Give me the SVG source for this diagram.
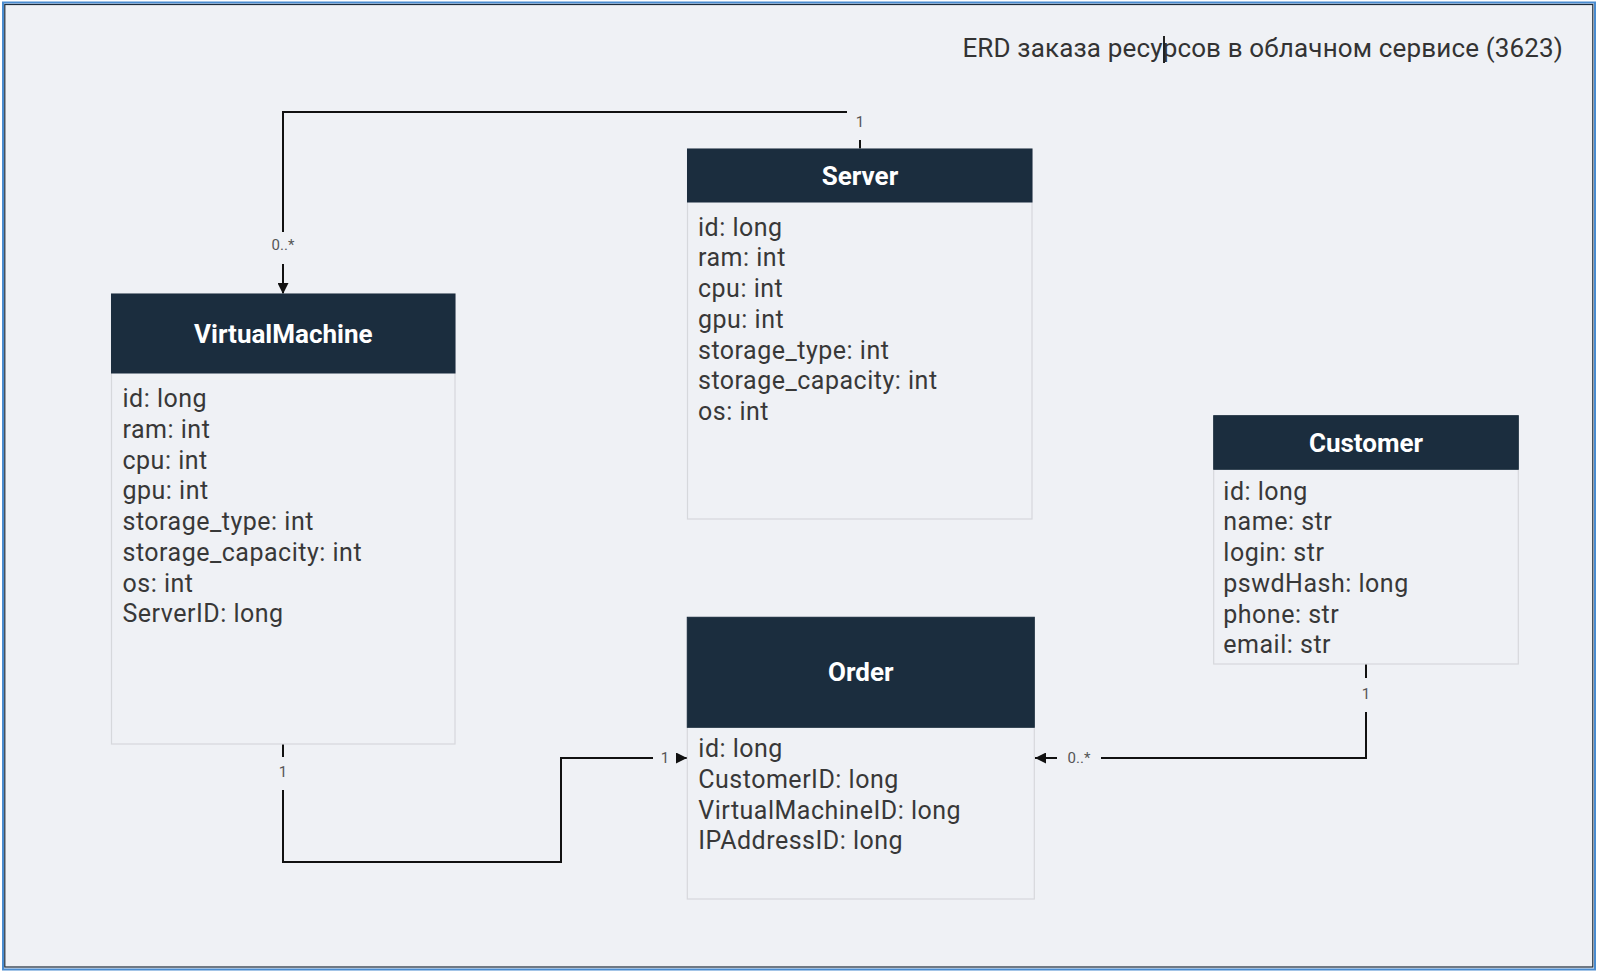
<svg xmlns="http://www.w3.org/2000/svg" width="1597" height="971" viewBox="0 0 1597 971">
<defs>
<style>
.bg{fill:#eff1f5}
.hdr{fill:#1b2d3e;stroke:#1b2d3e;stroke-width:1}
.body{fill:#eff1f5;stroke:#d6d8dc;stroke-width:1.2}
.ht{font-family:Roboto,"Liberation Sans",sans-serif;font-weight:bold;font-size:26px;fill:#ffffff;text-anchor:middle}
.ft{font-family:Roboto,"Liberation Sans",sans-serif;font-size:25px;letter-spacing:0.5px;fill:#383838}
.conn{fill:none;stroke:#111111;stroke-width:2}
.lbl{font-family:Roboto,"Liberation Sans",sans-serif;font-size:15px;fill:#555555;text-anchor:middle}
.mask{fill:#eff1f5}
</style>
<marker id="arr" viewBox="0 0 11 11" refX="11" refY="5.5" markerWidth="11" markerHeight="11" markerUnits="userSpaceOnUse" orient="auto">
<path d="M0,0 L11,5.5 L0,11 Z" fill="#111111"/>
</marker>
</defs>
<rect x="0" y="0" width="1597" height="971" fill="#ffffff"/>
<rect x="3" y="2.5" width="1592" height="967" fill="#eff1f5" stroke="#4a8cd0" stroke-width="2"/>
<rect x="4.8" y="4.5" width="1588" height="962.5" fill="none" stroke="#1c2b3a" stroke-width="1.2"/>

<text x="1563" y="56.5" font-family="Roboto,'Liberation Sans',sans-serif" font-size="26" letter-spacing="0.15" fill="#333333" text-anchor="end">ERD заказа ресурсов в облачном сервисе (3623)</text>
<line x1="1164" y1="36" x2="1164" y2="63" stroke="#222222" stroke-width="2"/>

<g id="connectors">
<path class="conn" d="M860,149 V112 H283 V294" marker-end="url(#arr)"/>
<path class="conn" d="M283,744 V862 H561 V758 H687" marker-end="url(#arr)"/>
<path class="conn" d="M1366,664 V758 H1035" marker-end="url(#arr)"/>
<rect class="mask" x="847" y="106" width="26" height="34"/>
<text class="lbl" x="860" y="127">1</text>
<rect class="mask" x="266" y="232" width="34" height="32"/>
<text class="lbl" x="283" y="250">0..*</text>
<rect class="mask" x="270" y="757" width="26" height="33"/>
<text class="lbl" x="283" y="777">1</text>
<rect class="mask" x="653" y="743" width="23" height="30"/>
<text class="lbl" x="665" y="763">1</text>
<rect class="mask" x="1353" y="678" width="26" height="34"/>
<text class="lbl" x="1366" y="699">1</text>
<rect class="mask" x="1057" y="743" width="44" height="30"/>
<text class="lbl" x="1079" y="763">0..*</text>
</g>

<g id="server">
<rect class="body" x="687.5" y="149" width="344.5" height="370"/>
<rect class="hdr" x="687.5" y="149" width="344.5" height="53"/>
<text class="ht" x="860" y="184.5">Server</text>
<text class="ft" x="698" y="235.5">id: long</text>
<text class="ft" x="698" y="266.2">ram: int</text>
<text class="ft" x="698" y="297">cpu: int</text>
<text class="ft" x="698" y="327.7">gpu: int</text>
<text class="ft" x="698" y="358.5">storage_type: int</text>
<text class="ft" x="698" y="389.2">storage_capacity: int</text>
<text class="ft" x="698" y="420">os: int</text>
</g>

<g id="virtualmachine">
<rect class="body" x="111.5" y="294" width="343.5" height="450"/>
<rect class="hdr" x="111.5" y="294" width="343.5" height="79"/>
<text class="ht" x="283.3" y="342.5">VirtualMachine</text>
<text class="ft" x="122.5" y="407.2">id: long</text>
<text class="ft" x="122.5" y="437.9">ram: int</text>
<text class="ft" x="122.5" y="468.7">cpu: int</text>
<text class="ft" x="122.5" y="499.4">gpu: int</text>
<text class="ft" x="122.5" y="530.2">storage_type: int</text>
<text class="ft" x="122.5" y="560.9">storage_capacity: int</text>
<text class="ft" x="122.5" y="591.7">os: int</text>
<text class="ft" x="122.5" y="622.4">ServerID: long</text>
</g>

<g id="customer">
<rect class="body" x="1213.7" y="415.7" width="304.6" height="248.3"/>
<rect class="hdr" x="1213.7" y="415.7" width="304.6" height="53.6"/>
<text class="ht" x="1366" y="451.5">Customer</text>
<text class="ft" x="1223.3" y="499.5">id: long</text>
<text class="ft" x="1223.3" y="530.2">name: str</text>
<text class="ft" x="1223.3" y="561">login: str</text>
<text class="ft" x="1223.3" y="591.7">pswdHash: long</text>
<text class="ft" x="1223.3" y="622.5">phone: str</text>
<text class="ft" x="1223.3" y="653.2">email: str</text>
</g>

<g id="order">
<rect class="body" x="687.3" y="617.3" width="347" height="281.7"/>
<rect class="hdr" x="687.3" y="617.3" width="347" height="110"/>
<text class="ht" x="860.8" y="681.2">Order</text>
<text class="ft" x="698.3" y="757">id: long</text>
<text class="ft" x="698.3" y="787.7">CustomerID: long</text>
<text class="ft" x="698.3" y="818.5">VirtualMachineID: long</text>
<text class="ft" x="698.3" y="849.2">IPAddressID: long</text>
</g>
</svg>
